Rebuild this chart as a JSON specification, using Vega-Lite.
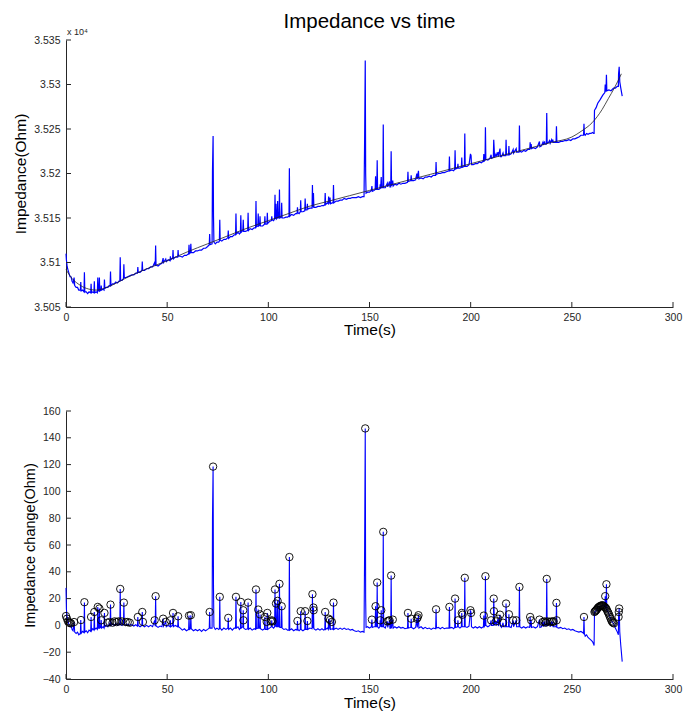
{
 "$schema": "https://vega.github.io/schema/vega-lite/v6.json",
 "background": "white",
 "padding": {"left": 13, "top": 11, "right": 5, "bottom": 5},
 "bounds": "flush",
 "spacing": 104,
 "config": {
  "view": {"stroke": null},
  "font": "Liberation Sans",
  "axis": {"grid": false, "ticks": false, "domainColor": "#262626", "labelColor": "#262626", "labelFont": "Liberation Sans", "labelFontSize": 10.5, "titleFont": "Liberation Sans", "titleFontSize": 15.5, "titleFontWeight": "normal", "titleColor": "black", "domainWidth": 1, "labelFlush": false, "labelOverlap": false}
 },
 "datasets": {
  "series": [
{"t":0,"z":35110,"d":28},{"t":0.2,"z":35103,"d":12},{"t":0.5,"z":35097,"d":7},{"t":0.8,"z":35093,"d":4},{"t":1.2,"z":35090,"d":2},{"t":1.6,"z":35087,"d":0},{"t":2,"z":35084,"d":-1},{"t":2.5,"z":35084,"d":0},{"t":3,"z":35079,"d":-3},{"t":3.5,"z":35077,"d":-4},{"t":4,"z":35083,"d":2.5},{"t":4.3,"z":35074,"d":-5},{"t":5,"z":35072,"d":-6},{"t":5.7,"z":35072,"d":-5},{"t":6.3,"z":35069,"d":-7},{"t":7.1,"z":35069,"d":-6},{"t":7.3,"z":35078,"d":4},{"t":7.5,"z":35068,"d":-6},{"t":8.2,"z":35069,"d":-4.5},{"t":8.9,"z":35067,"d":-5.5},{"t":9.1,"z":35089,"d":17},{"t":9.3,"z":35067,"d":-5},{"t":10,"z":35067,"d":-4},{"t":10.7,"z":35065,"d":-5.5},{"t":11.4,"z":35067,"d":-3.5},{"t":12.2,"z":35066,"d":-4.5},{"t":12.4,"z":35076,"d":6.3},{"t":12.6,"z":35066,"d":-4},{"t":13.2,"z":35067,"d":-2.5},{"t":13.8,"z":35066,"d":-3.5},{"t":14,"z":35079,"d":10},{"t":14.2,"z":35066,"d":-3},{"t":14.9,"z":35067,"d":-2},{"t":15.5,"z":35066,"d":-3},{"t":15.7,"z":35083,"d":13.8},{"t":15.9,"z":35068,"d":-2},{"t":16.3,"z":35068,"d":-2},{"t":16.5,"z":35083,"d":12.6},{"t":16.7,"z":35068,"d":-2},{"t":17.2,"z":35069,"d":-1.5},{"t":17.4,"z":35074,"d":4},{"t":17.6,"z":35069,"d":-2},{"t":18.3,"z":35070,"d":-1},{"t":18.8,"z":35069,"d":-2},{"t":19,"z":35081,"d":9.3},{"t":19.2,"z":35071,"d":-1},{"t":20,"z":35072,"d":0},{"t":20.7,"z":35072,"d":-1},{"t":21.3,"z":35074,"d":1},{"t":21.8,"z":35074,"d":0},{"t":22,"z":35090,"d":15.5},{"t":22.2,"z":35074,"d":0},{"t":23,"z":35076,"d":1},{"t":23.8,"z":35076,"d":0},{"t":24.6,"z":35078,"d":1.5},{"t":25.4,"z":35077,"d":0},{"t":26.2,"z":35079,"d":1},{"t":26.6,"z":35079,"d":0.5},{"t":26.8,"z":35106,"d":27.2},{"t":27,"z":35080,"d":1},{"t":27.7,"z":35080,"d":0},{"t":28.4,"z":35082,"d":1},{"t":28.6,"z":35098,"d":17},{"t":28.8,"z":35083,"d":1},{"t":29.6,"z":35083,"d":0},{"t":30.5,"z":35084,"d":1},{"t":31.5,"z":35085,"d":0},{"t":32.5,"z":35086,"d":0.5},{"t":33.5,"z":35086,"d":-0.5},{"t":34.5,"z":35088,"d":0.5},{"t":35.3,"z":35088,"d":-0.5},{"t":35.5,"z":35095,"d":6.3},{"t":35.7,"z":35089,"d":0},{"t":36.6,"z":35089,"d":-1},{"t":37.5,"z":35091,"d":0},{"t":37.7,"z":35101,"d":10},{"t":37.9,"z":35091,"d":0},{"t":38.8,"z":35091,"d":-1},{"t":39.8,"z":35093,"d":0},{"t":40.8,"z":35093,"d":-1},{"t":41.8,"z":35095,"d":0},{"t":42.8,"z":35095,"d":-1},{"t":43.8,"z":35100,"d":3.8},{"t":44.1,"z":35096,"d":-0.5},{"t":44.3,"z":35119,"d":21.8},{"t":44.5,"z":35097,"d":-0.5},{"t":45.5,"z":35096,"d":-1.5},{"t":46.5,"z":35098,"d":-0.5},{"t":47.4,"z":35099,"d":-1},{"t":48,"z":35105,"d":5},{"t":48.2,"z":35100,"d":-0.5},{"t":49.3,"z":35104,"d":2.6},{"t":49.6,"z":35101,"d":-1},{"t":50.5,"z":35103,"d":0},{"t":51.4,"z":35102,"d":-1},{"t":51.6,"z":35107,"d":3.8},{"t":51.8,"z":35103,"d":-1},{"t":52.7,"z":35105,"d":0},{"t":52.9,"z":35114,"d":9.3},{"t":53.1,"z":35104,"d":-1},{"t":54,"z":35106,"d":0},{"t":55.2,"z":35106,"d":-1},{"t":55.4,"z":35114,"d":6.8},{"t":55.6,"z":35107,"d":-1},{"t":56.5,"z":35107,"d":-2},{"t":57.5,"z":35106,"d":-3.5},{"t":58.5,"z":35108,"d":-2.5},{"t":59.5,"z":35108,"d":-4},{"t":60.6,"z":35110,"d":-3},{"t":60.8,"z":35120,"d":7.3},{"t":61,"z":35110,"d":-3},{"t":61.5,"z":35111,"d":-2.5},{"t":61.7,"z":35121,"d":7.6},{"t":61.9,"z":35111,"d":-2.5},{"t":63,"z":35111,"d":-4},{"t":64,"z":35113,"d":-3},{"t":65,"z":35113,"d":-4},{"t":66,"z":35114,"d":-3},{"t":67,"z":35114,"d":-4.5},{"t":68,"z":35116,"d":-3},{"t":69,"z":35116,"d":-4},{"t":70,"z":35118,"d":-3},{"t":70.8,"z":35120,"d":-2},{"t":71,"z":35132,"d":10},{"t":71.2,"z":35120,"d":-2},{"t":72.2,"z":35121,"d":-2},{"t":72.4,"z":35203,"d":80},{"t":72.7,"z":35242,"d":118.5},{"t":72.9,"z":35152,"d":28},{"t":73.1,"z":35123,"d":-1},{"t":73.8,"z":35121,"d":-3},{"t":74.6,"z":35123,"d":-2},{"t":75.5,"z":35123,"d":-3},{"t":75.8,"z":35124,"d":-2.5},{"t":76,"z":35148,"d":21.3},{"t":76.2,"z":35125,"d":-2},{"t":77,"z":35124,"d":-3.5},{"t":78,"z":35126,"d":-2},{"t":79,"z":35126,"d":-3},{"t":80,"z":35128,"d":-2},{"t":80.2,"z":35136,"d":5.6},{"t":80.4,"z":35127,"d":-3},{"t":81.3,"z":35129,"d":-2},{"t":82.2,"z":35129,"d":-3.5},{"t":83.1,"z":35131,"d":-2},{"t":83.8,"z":35131,"d":-2},{"t":84,"z":35155,"d":21.3},{"t":84.2,"z":35132,"d":-2},{"t":85,"z":35134,"d":-1},{"t":85.7,"z":35132,"d":-3},{"t":86.2,"z":35134,"d":-2},{"t":86.4,"z":35153,"d":17.5},{"t":86.6,"z":35134,"d":-2},{"t":87.4,"z":35136,"d":-1},{"t":87.6,"z":35148,"d":11.3},{"t":87.8,"z":35135,"d":-2},{"t":88.7,"z":35135,"d":-3},{"t":89.8,"z":35136,"d":-2.5},{"t":90,"z":35156,"d":17},{"t":90.2,"z":35136,"d":-3},{"t":91,"z":35138,"d":-2},{"t":92,"z":35137,"d":-3.5},{"t":93,"z":35139,"d":-2.5},{"t":93.7,"z":35139,"d":-3},{"t":93.9,"z":35169,"d":26.8},{"t":94.1,"z":35140,"d":-2.5},{"t":94.8,"z":35141,"d":-2},{"t":95,"z":35155,"d":11.8},{"t":95.2,"z":35141,"d":-2},{"t":95.7,"z":35142,"d":-2},{"t":95.9,"z":35152,"d":8.2},{"t":96.1,"z":35141,"d":-2.5},{"t":97.2,"z":35141,"d":-3.5},{"t":98.1,"z":35143,"d":-2.5},{"t":98.3,"z":35152,"d":6.3},{"t":98.5,"z":35143,"d":-3},{"t":99.3,"z":35143,"d":-3},{"t":99.5,"z":35156,"d":9.3},{"t":99.7,"z":35144,"d":-3},{"t":100.6,"z":35146,"d":-2},{"t":101.5,"z":35147,"d":-1},{"t":101.7,"z":35152,"d":3.8},{"t":101.9,"z":35148,"d":-1},{"t":102.6,"z":35147,"d":-2},{"t":103.1,"z":35149,"d":-1},{"t":103.3,"z":35176,"d":26.8},{"t":103.5,"z":35149,"d":-1},{"t":103.8,"z":35166,"d":16.3},{"t":104,"z":35149,"d":-1},{"t":104.4,"z":35150,"d":-1},{"t":104.6,"z":35169,"d":18.3},{"t":104.8,"z":35150,"d":-1},{"t":105.3,"z":35150,"d":-1},{"t":105.5,"z":35182,"d":31},{"t":105.7,"z":35150,"d":-1.5},{"t":106.4,"z":35151,"d":-1.5},{"t":106.6,"z":35167,"d":14.3},{"t":106.8,"z":35150,"d":-2},{"t":107.7,"z":35150,"d":-3},{"t":108.7,"z":35151,"d":-2.5},{"t":109.5,"z":35151,"d":-3.5},{"t":110.2,"z":35152,"d":-3.5},{"t":110.4,"z":35206,"d":51},{"t":110.6,"z":35152,"d":-3.5},{"t":111.5,"z":35154,"d":-2.5},{"t":112.5,"z":35153,"d":-4},{"t":113.5,"z":35155,"d":-3},{"t":114.2,"z":35155,"d":-3.5},{"t":114.4,"z":35162,"d":3.3},{"t":114.6,"z":35156,"d":-3},{"t":115.2,"z":35155,"d":-4},{"t":115.8,"z":35157,"d":-3},{"t":116,"z":35170,"d":10.6},{"t":116.2,"z":35157,"d":-3},{"t":117.1,"z":35157,"d":-4},{"t":118,"z":35158,"d":-3},{"t":118.2,"z":35172,"d":10.6},{"t":118.4,"z":35159,"d":-3},{"t":119.1,"z":35159,"d":-3},{"t":119.3,"z":35166,"d":3.3},{"t":119.5,"z":35160,"d":-3},{"t":120.5,"z":35161,"d":-2},{"t":121.6,"z":35161,"d":-2.5},{"t":121.8,"z":35187,"d":23.3},{"t":122,"z":35162,"d":-2},{"t":122.3,"z":35178,"d":13.3},{"t":122.5,"z":35162,"d":-2.5},{"t":123.5,"z":35162,"d":-3.5},{"t":124.5,"z":35163,"d":-2.5},{"t":125.5,"z":35163,"d":-3.5},{"t":126.5,"z":35164,"d":-2.5},{"t":127.4,"z":35164,"d":-3.5},{"t":127.9,"z":35165,"d":-3},{"t":128.1,"z":35178,"d":10},{"t":128.3,"z":35165,"d":-3},{"t":129.2,"z":35167,"d":-2},{"t":129.6,"z":35166,"d":-3},{"t":129.8,"z":35174,"d":5},{"t":130,"z":35166,"d":-3},{"t":130.5,"z":35173,"d":4},{"t":130.7,"z":35166,"d":-3},{"t":131.5,"z":35167,"d":-2.5},{"t":132,"z":35167,"d":-3},{"t":132.2,"z":35187,"d":17},{"t":132.4,"z":35167,"d":-3},{"t":133.5,"z":35169,"d":-2},{"t":134.5,"z":35169,"d":-3},{"t":135.5,"z":35170,"d":-2},{"t":136.5,"z":35170,"d":-3},{"t":137.5,"z":35172,"d":-2},{"t":138.5,"z":35171,"d":-3},{"t":139.5,"z":35172,"d":-2.5},{"t":140.5,"z":35172,"d":-3.5},{"t":141.5,"z":35173,"d":-3},{"t":142.5,"z":35173,"d":-4},{"t":143.5,"z":35173,"d":-4.5},{"t":144.5,"z":35174,"d":-4},{"t":145.5,"z":35173,"d":-5},{"t":146.5,"z":35174,"d":-4.5},{"t":147.3,"z":35174,"d":-5},{"t":147.6,"z":35240,"d":60},{"t":147.9,"z":35327,"d":147},{"t":148.1,"z":35200,"d":20},{"t":148.3,"z":35178,"d":-1.5},{"t":149,"z":35179,"d":-1},{"t":150,"z":35179,"d":-2},{"t":150.9,"z":35181,"d":-1},{"t":151.2,"z":35186,"d":4.3},{"t":151.4,"z":35180,"d":-1.5},{"t":152.2,"z":35181,"d":-1},{"t":152.8,"z":35182,"d":-1},{"t":153,"z":35197,"d":14.3},{"t":153.2,"z":35182,"d":-1},{"t":153.6,"z":35182,"d":-1},{"t":153.8,"z":35215,"d":32},{"t":154,"z":35182,"d":-1},{"t":154.6,"z":35182,"d":-2},{"t":155.1,"z":35183,"d":-1},{"t":155.3,"z":35188,"d":3.8},{"t":155.5,"z":35183,"d":-1},{"t":155.8,"z":35196,"d":11.3},{"t":156,"z":35184,"d":-1},{"t":156.6,"z":35184,"d":-1},{"t":156.8,"z":35255,"d":69.8},{"t":157,"z":35184,"d":-1},{"t":157.8,"z":35184,"d":-2},{"t":158.8,"z":35189,"d":3},{"t":159,"z":35185,"d":-1.5},{"t":159.9,"z":35191,"d":3.8},{"t":160.1,"z":35185,"d":-2},{"t":160.5,"z":35185,"d":-2},{"t":160.7,"z":35225,"d":37.2},{"t":160.9,"z":35186,"d":-2},{"t":161.5,"z":35192,"d":4.3},{"t":161.7,"z":35186,"d":-2},{"t":162.5,"z":35188,"d":-1},{"t":163.5,"z":35187,"d":-2},{"t":164.5,"z":35189,"d":-1},{"t":165.5,"z":35188,"d":-2},{"t":166.5,"z":35189,"d":-1.5},{"t":167.5,"z":35189,"d":-2.5},{"t":168.8,"z":35190,"d":-2},{"t":169,"z":35202,"d":9.3},{"t":169.2,"z":35191,"d":-2},{"t":170.4,"z":35192,"d":-1.5},{"t":170.6,"z":35198,"d":5},{"t":170.8,"z":35192,"d":-1.5},{"t":171.8,"z":35192,"d":-2.5},{"t":172.8,"z":35193,"d":-1.5},{"t":173.4,"z":35200,"d":5},{"t":173.6,"z":35194,"d":-1.5},{"t":174.2,"z":35203,"d":7.6},{"t":174.4,"z":35194,"d":-2},{"t":175.5,"z":35195,"d":-1},{"t":176.5,"z":35194,"d":-2.5},{"t":177.5,"z":35196,"d":-1.5},{"t":178.5,"z":35196,"d":-2.5},{"t":179.5,"z":35197,"d":-2},{"t":180.5,"z":35196,"d":-3},{"t":181.5,"z":35198,"d":-2},{"t":182.7,"z":35198,"d":-2.5},{"t":182.9,"z":35213,"d":12},{"t":183.1,"z":35199,"d":-2},{"t":184,"z":35200,"d":-1.5},{"t":185,"z":35200,"d":-2.5},{"t":186,"z":35201,"d":-1.5},{"t":187,"z":35201,"d":-2.5},{"t":188,"z":35202,"d":-2},{"t":189.3,"z":35203,"d":-2},{"t":189.5,"z":35219,"d":13.8},{"t":189.7,"z":35203,"d":-2},{"t":190.7,"z":35204,"d":-1.5},{"t":191.6,"z":35203,"d":-2.5},{"t":192.1,"z":35205,"d":-1.5},{"t":192.3,"z":35226,"d":20},{"t":192.5,"z":35205,"d":-1.5},{"t":193.5,"z":35206,"d":-1},{"t":193.7,"z":35211,"d":3.8},{"t":193.9,"z":35206,"d":-1},{"t":194.7,"z":35206,"d":-2},{"t":195.4,"z":35207,"d":-1},{"t":195.6,"z":35218,"d":9.3},{"t":195.8,"z":35207,"d":-1},{"t":196.9,"z":35208,"d":-1},{"t":197.1,"z":35245,"d":35.5},{"t":197.3,"z":35208,"d":-1},{"t":198.2,"z":35208,"d":-1.5},{"t":199.2,"z":35210,"d":-0.5},{"t":199.9,"z":35222,"d":11.3},{"t":200.2,"z":35220,"d":9.3},{"t":200.4,"z":35210,"d":-1},{"t":201.3,"z":35210,"d":-2},{"t":202.3,"z":35211,"d":-1},{"t":203.3,"z":35211,"d":-2},{"t":204.3,"z":35213,"d":-1},{"t":205.3,"z":35212,"d":-2},{"t":206.3,"z":35214,"d":-1},{"t":206.5,"z":35222,"d":7.3},{"t":206.7,"z":35214,"d":-1},{"t":207.1,"z":35215,"d":0},{"t":207.3,"z":35252,"d":36.7},{"t":207.5,"z":35216,"d":0},{"t":208.5,"z":35215,"d":-1},{"t":209.5,"z":35217,"d":0},{"t":210.1,"z":35221,"d":3.8},{"t":210.3,"z":35217,"d":0},{"t":211.2,"z":35218,"d":0},{"t":211.4,"z":35238,"d":20},{"t":211.6,"z":35229,"d":10.6},{"t":211.8,"z":35218,"d":0},{"t":212.5,"z":35222,"d":3},{"t":212.7,"z":35219,"d":0},{"t":213.5,"z":35224,"d":5},{"t":213.7,"z":35219,"d":-0.5},{"t":214.5,"z":35228,"d":8},{"t":214.7,"z":35219,"d":-0.5},{"t":215.3,"z":35219,"d":-1.5},{"t":216,"z":35223,"d":2},{"t":216.3,"z":35220,"d":-1},{"t":217.3,"z":35220,"d":-1},{"t":217.5,"z":35238,"d":16.3},{"t":217.7,"z":35221,"d":-1},{"t":218.7,"z":35221,"d":-1},{"t":218.9,"z":35231,"d":8.3},{"t":219.1,"z":35221,"d":-1},{"t":220,"z":35222,"d":-1.5},{"t":221,"z":35227,"d":3.8},{"t":221.2,"z":35223,"d":-1},{"t":222.5,"z":35228,"d":3.8},{"t":222.7,"z":35224,"d":-1},{"t":223.9,"z":35224,"d":-1},{"t":224.1,"z":35254,"d":28.7},{"t":224.3,"z":35225,"d":-1},{"t":225.2,"z":35224,"d":-2},{"t":226.2,"z":35226,"d":-1},{"t":227.2,"z":35225,"d":-2},{"t":228.2,"z":35227,"d":-1},{"t":229.2,"z":35227,"d":-1.5},{"t":229.4,"z":35235,"d":6.3},{"t":229.6,"z":35228,"d":-1},{"t":229.9,"z":35233,"d":3.8},{"t":230.1,"z":35228,"d":-1.5},{"t":231,"z":35229,"d":-1},{"t":232,"z":35228,"d":-2},{"t":233,"z":35230,"d":-1},{"t":234,"z":35236,"d":4.3},{"t":234.2,"z":35230,"d":-1.5},{"t":235,"z":35231,"d":-1},{"t":235.7,"z":35235,"d":2.6},{"t":235.9,"z":35232,"d":-1},{"t":236.5,"z":35236,"d":3},{"t":236.7,"z":35233,"d":0},{"t":237.4,"z":35233,"d":0},{"t":237.6,"z":35268,"d":34.7},{"t":237.8,"z":35234,"d":0},{"t":238.5,"z":35235,"d":1},{"t":239,"z":35237,"d":2.6},{"t":239.3,"z":35234,"d":-1},{"t":240,"z":35238,"d":3},{"t":240.3,"z":35235,"d":-0.5},{"t":240.6,"z":35238,"d":2.6},{"t":240.8,"z":35235,"d":-1},{"t":241.5,"z":35235,"d":-1},{"t":242.2,"z":35235,"d":-1},{"t":242.4,"z":35253,"d":16.8},{"t":242.6,"z":35235,"d":-1.5},{"t":243.5,"z":35235,"d":-2},{"t":244.5,"z":35236,"d":-1.5},{"t":245.5,"z":35236,"d":-2.5},{"t":246.5,"z":35237,"d":-2},{"t":247.5,"z":35237,"d":-3},{"t":248.5,"z":35238,"d":-2.5},{"t":249.5,"z":35237,"d":-3.5},{"t":250.5,"z":35239,"d":-3},{"t":251.5,"z":35239,"d":-4},{"t":252.5,"z":35240,"d":-4.5},{"t":253.5,"z":35241,"d":-5},{"t":254.5,"z":35243,"d":-4.5},{"t":255.5,"z":35243,"d":-5.5},{"t":255.8,"z":35243,"d":-6},{"t":256,"z":35256,"d":6.3},{"t":256.2,"z":35244,"d":-6},{"t":256.6,"z":35243,"d":-8},{"t":257.3,"z":35245,"d":-7},{"t":258,"z":35244,"d":-9},{"t":258.8,"z":35245,"d":-10},{"t":259.5,"z":35245,"d":-11},{"t":260.2,"z":35246,"d":-12},{"t":260.8,"z":35245,"d":-14},{"t":261,"z":35245,"d":-15},{"t":261.2,"z":35271,"d":10},{"t":262,"z":35274,"d":11},{"t":262.8,"z":35279,"d":13.8},{"t":264,"z":35283,"d":14},{"t":265.3,"z":35288,"d":15},{"t":266.3,"z":35291,"d":14},{"t":266.5,"z":35300,"d":21.8},{"t":266.7,"z":35292,"d":13.5},{"t":266.9,"z":35294,"d":14},{"t":267.1,"z":35311,"d":30.7},{"t":267.3,"z":35293,"d":12},{"t":268.3,"z":35294,"d":8.8},{"t":269.4,"z":35293,"d":3.8},{"t":270.6,"z":35296,"d":1.4},{"t":271.5,"z":35296,"d":-2},{"t":272.5,"z":35298,"d":-5},{"t":273,"z":35298,"d":-7},{"t":273.1,"z":35312,"d":6.3},{"t":273.4,"z":35320,"d":13},{"t":273.7,"z":35303,"d":-5},{"t":274.2,"z":35296,"d":-15},{"t":274.9,"z":35287,"d":-27}
  ],
  "fit": [
   {"t":0,"z":35092},{"t":3,"z":35082},{"t":6,"z":35076},{"t":10,"z":35071},{"t":15,"z":35069},{"t":20,"z":35072},{"t":25,"z":35077},{"t":30,"z":35083},{"t":40,"z":35093},{"t":50,"z":35102},{"t":60,"z":35112},{"t":70,"z":35121},{"t":80,"z":35130},{"t":90,"z":35139},{"t":100,"z":35147},{"t":110,"z":35155},{"t":120,"z":35163},{"t":130,"z":35169},{"t":140,"z":35175},{"t":150,"z":35181},{"t":160,"z":35187},{"t":170,"z":35193},{"t":180,"z":35199},{"t":190,"z":35205},{"t":200,"z":35211},{"t":210,"z":35217},{"t":220,"z":35223},{"t":230,"z":35229},{"t":240,"z":35235},{"t":250,"z":35241},{"t":255,"z":35248},{"t":260,"z":35257},{"t":265,"z":35272},{"t":268,"z":35284},{"t":271,"z":35296},{"t":274.5,"z":35312}
  ],
  "peaks": [
   {"t":0,"d":7},{"t":0.5,"d":5},{"t":1,"d":3},{"t":1.5,"d":2},{"t":2,"d":2},{"t":2.5,"d":1.5},{"t":4,"d":2.5},{"t":7.4,"d":4},{"t":9.1,"d":17.3},{"t":12.4,"d":6.3},{"t":14,"d":10},{"t":15.7,"d":13.8},{"t":16.5,"d":12.6},{"t":17.4,"d":3.8},{"t":19,"d":9.3},{"t":20.5,"d":2},{"t":21.5,"d":2.5},{"t":22,"d":15.5},{"t":23,"d":2},{"t":24,"d":3},{"t":25,"d":2.5},{"t":26,"d":3},{"t":26.8,"d":27.2},{"t":27.5,"d":3},{"t":28.6,"d":17},{"t":29.5,"d":2.5},{"t":30.5,"d":2.5},{"t":31.5,"d":2},{"t":35.5,"d":6.3},{"t":37.7,"d":10},{"t":38,"d":2.6},{"t":43.8,"d":3.8},{"t":44.3,"d":21.8},{"t":48,"d":5},{"t":49.3,"d":2.6},{"t":51.6,"d":3.8},{"t":52.9,"d":9.3},{"t":55.4,"d":6.8},{"t":60.8,"d":7.3},{"t":61.7,"d":7.6},{"t":71,"d":10},{"t":72.7,"d":118.5},{"t":76,"d":21.3},{"t":80.2,"d":5.6},{"t":84,"d":21.3},{"t":86.4,"d":17.5},{"t":87.6,"d":11.3},{"t":87.7,"d":3.8},{"t":90,"d":17},{"t":93.9,"d":26.8},{"t":95,"d":11.8},{"t":95.9,"d":8.2},{"t":98.3,"d":6.3},{"t":99.2,"d":2.6},{"t":99.5,"d":9.3},{"t":101.2,"d":3},{"t":101.7,"d":3.8},{"t":102.1,"d":3},{"t":103.3,"d":26.8},{"t":103.8,"d":16.3},{"t":104.6,"d":18.3},{"t":105.5,"d":31},{"t":106.6,"d":14.3},{"t":110.4,"d":51},{"t":114.4,"d":3.3},{"t":116,"d":10.6},{"t":118.2,"d":10.6},{"t":119.3,"d":3.3},{"t":121.8,"d":23.3},{"t":122.3,"d":13.3},{"t":122.4,"d":11.3},{"t":128.1,"d":10},{"t":129.8,"d":5},{"t":130.5,"d":4},{"t":131.4,"d":2.6},{"t":132.2,"d":17},{"t":147.9,"d":147},{"t":151.2,"d":4.3},{"t":153,"d":14.3},{"t":153.8,"d":32},{"t":155.3,"d":3.8},{"t":155.8,"d":11.3},{"t":156.8,"d":69.8},{"t":158.8,"d":3},{"t":159.4,"d":3.5},{"t":159.9,"d":3.8},{"t":160.7,"d":37.2},{"t":161.5,"d":4.3},{"t":169,"d":9.3},{"t":170.6,"d":5},{"t":173.4,"d":5},{"t":173.8,"d":6},{"t":174.2,"d":7.6},{"t":182.9,"d":12},{"t":189.5,"d":13.8},{"t":192.3,"d":20},{"t":193.7,"d":3.8},{"t":195.6,"d":9.3},{"t":196,"d":8},{"t":197.1,"d":35.5},{"t":199.9,"d":11.3},{"t":200.2,"d":9.3},{"t":206.5,"d":7.3},{"t":207.3,"d":36.7},{"t":210.1,"d":3.8},{"t":211.4,"d":20},{"t":211.5,"d":10.6},{"t":212.5,"d":3},{"t":213.5,"d":5},{"t":214.5,"d":8},{"t":216,"d":2},{"t":217.5,"d":16.3},{"t":218.9,"d":8.3},{"t":221,"d":3.8},{"t":222.5,"d":3.8},{"t":224.1,"d":28.7},{"t":229.4,"d":6.3},{"t":229.9,"d":3.8},{"t":234,"d":4.3},{"t":235.7,"d":2.6},{"t":236.5,"d":3},{"t":237,"d":2},{"t":237.6,"d":34.7},{"t":238,"d":3},{"t":239,"d":2.6},{"t":240,"d":3},{"t":240.6,"d":2.6},{"t":241,"d":3},{"t":242.4,"d":16.8},{"t":242.5,"d":3.8},{"t":256,"d":6.3},{"t":261.2,"d":10},{"t":261.5,"d":10.5},{"t":261.8,"d":11},{"t":262.1,"d":11.5},{"t":262.4,"d":12},{"t":262.8,"d":13},{"t":263.2,"d":13.5},{"t":263.6,"d":14},{"t":264,"d":14.5},{"t":264.4,"d":14.5},{"t":264.8,"d":15},{"t":265.2,"d":15},{"t":265.6,"d":14.5},{"t":266,"d":14},{"t":266.4,"d":13.5},{"t":266.5,"d":21.8},{"t":266.8,"d":13},{"t":267.1,"d":30.7},{"t":267.2,"d":12},{"t":267.6,"d":10.5},{"t":268,"d":9.5},{"t":268.4,"d":8},{"t":268.8,"d":6.5},{"t":269.2,"d":5},{"t":269.6,"d":3.5},{"t":270,"d":2.5},{"t":270.4,"d":2},{"t":270.8,"d":1.5},{"t":273.1,"d":6.3},{"t":273.2,"d":10},{"t":273.4,"d":12.6}
  ],
  "topxticks": [{"t":0,"z":35050},{"t":50,"z":35050},{"t":100,"z":35050},{"t":150,"z":35050},{"t":200,"z":35050},{"t":250,"z":35050},{"t":300,"z":35050}],
  "topyticks": [{"t":0,"z":35050},{"t":0,"z":35100},{"t":0,"z":35150},{"t":0,"z":35200},{"t":0,"z":35250},{"t":0,"z":35300},{"t":0,"z":35350}],
  "botxticks": [{"t":0,"d":-40},{"t":50,"d":-40},{"t":100,"d":-40},{"t":150,"d":-40},{"t":200,"d":-40},{"t":250,"d":-40},{"t":300,"d":-40}],
  "botyticks": [{"t":0,"d":-40},{"t":0,"d":-20},{"t":0,"d":0},{"t":0,"d":20},{"t":0,"d":40},{"t":0,"d":60},{"t":0,"d":80},{"t":0,"d":100},{"t":0,"d":120},{"t":0,"d":140},{"t":0,"d":160}],
  "exponent": [{"t":0,"z":35350,"lab":"x 10⁴"}]
 },
 "vconcat": [
  {
   "width": 607, "height": 267,
   "title": {"text": "Impedance vs time", "fontSize": 20.5, "fontWeight": "normal", "font": "Liberation Sans", "color": "black", "anchor": "middle", "frame": "group", "offset": -4},
   "encoding": {
    "x": {"field": "t", "type": "quantitative", "scale": {"domain": [0, 300], "nice": false}, "axis": {"values": [0, 50, 100, 150, 200, 250, 300], "title": "Time(s)", "labelPadding": 5, "titlePadding": 0, "labelOverlap": false}},
    "y": {"field": "z", "type": "quantitative", "scale": {"domain": [35050, 35350], "nice": false, "zero": false}, "axis": {"values": [35050, 35100, 35150, 35200, 35250, 35300, 35350], "labelExpr": "format(datum.value/10000, '.3~f')", "title": "Impedance(Ohm)", "labelPadding": 6, "titlePadding": 5, "labelOverlap": false}}
   },
   "layer": [
    {"data": {"name": "series"}, "mark": {"type": "line", "color": "#0000ff", "strokeWidth": 1.2}},
    {"data": {"name": "fit"}, "mark": {"type": "line", "color": "#222222", "strokeWidth": 0.8, "interpolate": "monotone"}},
    {"data": {"name": "topxticks"}, "mark": {"type": "rule", "color": "#262626", "strokeWidth": 1, "y2Offset": -5},
     "encoding": {"y2": {"field": "z"}}},
    {"data": {"name": "topyticks"}, "mark": {"type": "rule", "color": "#262626", "strokeWidth": 1, "x2Offset": 5},
     "encoding": {"x2": {"field": "t"}}},
    {"data": {"name": "exponent"}, "mark": {"type": "text", "align": "left", "baseline": "bottom", "dy": -3, "dx": 1, "fontSize": 9, "color": "#262626", "font": "Liberation Sans"},
     "encoding": {"text": {"field": "lab"}}}
   ]
  },
  {
   "width": 607, "height": 268,
   "encoding": {
    "x": {"field": "t", "type": "quantitative", "scale": {"domain": [0, 300], "nice": false}, "axis": {"values": [0, 50, 100, 150, 200, 250, 300], "title": "Time(s)", "labelPadding": 5, "titlePadding": 1, "labelOverlap": false}},
    "y": {"field": "d", "type": "quantitative", "scale": {"domain": [-40, 160], "nice": false}, "axis": {"values": [-40, -20, 0, 20, 40, 60, 80, 100, 120, 140, 160], "title": "Impedance change(Ohm)", "titleFontSize": 14.5, "labelPadding": 6, "titlePadding": 5, "labelOverlap": false}}
   },
   "layer": [
    {"data": {"name": "series"}, "mark": {"type": "line", "color": "#0000ff", "strokeWidth": 1.1}},
    {"data": {"name": "peaks"}, "mark": {"type": "point", "shape": "circle", "filled": false, "color": "black", "strokeWidth": 0.9, "size": 55, "opacity": 1}},
    {"data": {"name": "botxticks"}, "mark": {"type": "rule", "color": "#262626", "strokeWidth": 1, "y2Offset": -5},
     "encoding": {"y2": {"field": "d"}}},
    {"data": {"name": "botyticks"}, "mark": {"type": "rule", "color": "#262626", "strokeWidth": 1, "x2Offset": 5},
     "encoding": {"x2": {"field": "t"}}}
   ]
  }
 ]
}
